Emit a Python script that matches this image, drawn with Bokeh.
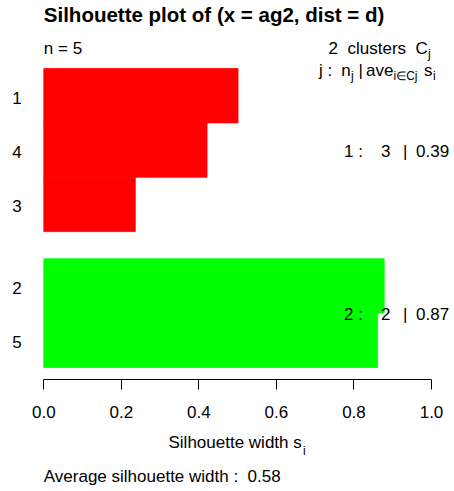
from bokeh.plotting import figure
from bokeh.models import Label, Range1d, FixedTicker, ColumnDataSource, CustomJSTickFormatter, LinearAxis
from bokeh.core.properties import value
from bokeh.embed import file_html
from bokeh.resources import INLINE

# ---- data ----
obs_labels = ["1", "4", "3", "2", "5"]
sil_width = [0.501, 0.421, 0.236, 0.878, 0.861]
cluster = [1, 1, 1, 2, 2]
cluster_colors = {1: "#FF0000", 2: "#00FF00"}
x_ticks = [0.0, 0.2, 0.4, 0.6, 0.8, 1.0]
x_tick_labels = ["0.0", "0.2", "0.4", "0.6", "0.8", "1.0"]
title_text = "Silhouette plot of (x = ag2, dist = d)"

FONT = "Liberation Sans"
W, H = 454, 491
X0, XS = 43.3, 387.7   # px of x=0, px per unit
Y0, YS = 367.0, 54.36  # px of y=0 (from top), px per unit


def dx(px):
    return (px - X0) / XS


def dy(py):
    return (Y0 - py) / YS


# bar positions like R barplot (space 0 inside cluster, 0.5 between clusters)
n = len(obs_labels)
centers = [0.0] * n
pos = 0.0
prev = None
for i in reversed(range(n)):
    if prev is not None and cluster[i] != prev:
        pos += 0.5
    centers[i] = pos + 0.5
    pos += 1.0
    prev = cluster[i]

src = ColumnDataSource(dict(
    y=centers, right=sil_width, obs=obs_labels,
    color=[cluster_colors[c] for c in cluster],
    lx=[dx(16.5)] * n,
))

p = figure(width=W, height=H, output_backend="svg", toolbar_location=None,
           x_range=Range1d(dx(0), dx(W)), y_range=Range1d(dy(H), dy(0)),
           min_border_left=0, min_border_right=0, min_border_top=0, min_border_bottom=0,
           y_axis_location=None, x_axis_location=None)
p.outline_line_color = None
p.xgrid.visible = False
p.ygrid.visible = False
p.background_fill_color = "white"
p.border_fill_color = "white"

p.hbar(y="y", height=1.0, left=0, right="right", fill_color="color", line_color="color",
       line_width=0.8, source=src)

p.text(x="lx", y="y", text="obs", source=src, text_font=value(FONT), text_font_size="17px",
       text_align="center", text_baseline="middle", text_color="black", y_offset=2)

ax = LinearAxis(fixed_location=dy(379.3))
ax.ticker = FixedTicker(ticks=x_ticks)
ax.formatter = CustomJSTickFormatter(args=dict(tvals=x_ticks, tlabs=x_tick_labels), code="""
const i = tvals.findIndex(t => Math.abs(t - tick) < 1e-9);
return i >= 0 ? tlabs[i] : "";
""")
ax.bounds = (0, 1)
ax.axis_line_color = "black"
ax.major_tick_line_color = "black"
ax.minor_tick_line_color = None
ax.major_tick_in = 0
ax.major_tick_out = 10
ax.major_label_text_font = FONT
ax.major_label_text_font_size = "17px"
ax.major_label_text_color = "black"
ax.major_label_standoff = 16
p.add_layout(ax, "below")


def lab(px, py, text, size="17px", bold=False, align="left"):
    # py = vertical centre of the text
    p.add_layout(Label(x=dx(px), y=dy(py), text=text, text_font=FONT, text_font_size=size,
                       text_font_style="bold" if bold else "normal", text_color="black",
                       text_align=align, text_baseline="middle"))


# title and header
lab(43.3, 14.2, title_text, size="20.5px", bold=True)
lab(43.3, 47.5, f"n = {n}")
k = len(sorted(set(cluster)))
lab(328, 47.5, str(k))
lab(347, 47.5, "clusters")
lab(415, 47.5, "C")
lab(427.5, 53.0, "j", size="12px")
lab(318.5, 69.5, "j :")
lab(340.7, 69.5, "n")
lab(350.4, 75.0, "j", size="12px")
lab(358.0, 69.5, "|")
lab(365.5, 69.5, "ave")
lab(393.0, 75.0, "i\u2208Cj", size="12px")
lab(423.5, 69.5, "s")
lab(432.5, 75.0, "i", size="12px")

# cluster statistics
for j in sorted(set(cluster)):
    idx = [i for i in range(n) if cluster[i] == j]
    nj = len(idx)
    avej = sum(sil_width[i] for i in idx) / nj
    yc = sum(centers[i] for i in idx) / nj
    ypx = Y0 - yc * YS + 1
    lab(343.5, ypx, f"{j} :")
    lab(380.5, ypx, f"{nj}")
    lab(402.5, ypx, "|")
    lab(415.5, ypx, f"{avej:.2f}")

# x label and average
lab(168, 441.5, "Silhouette width s")
lab(302.5, 450.3, "i", size="12px")
avg = sum(sil_width) / n
lab(43.3, 475.7, f"Average silhouette width :  {avg:.2f}".replace(" ", "\u00a0"))

open("out.html", "w").write(file_html(p, INLINE))
